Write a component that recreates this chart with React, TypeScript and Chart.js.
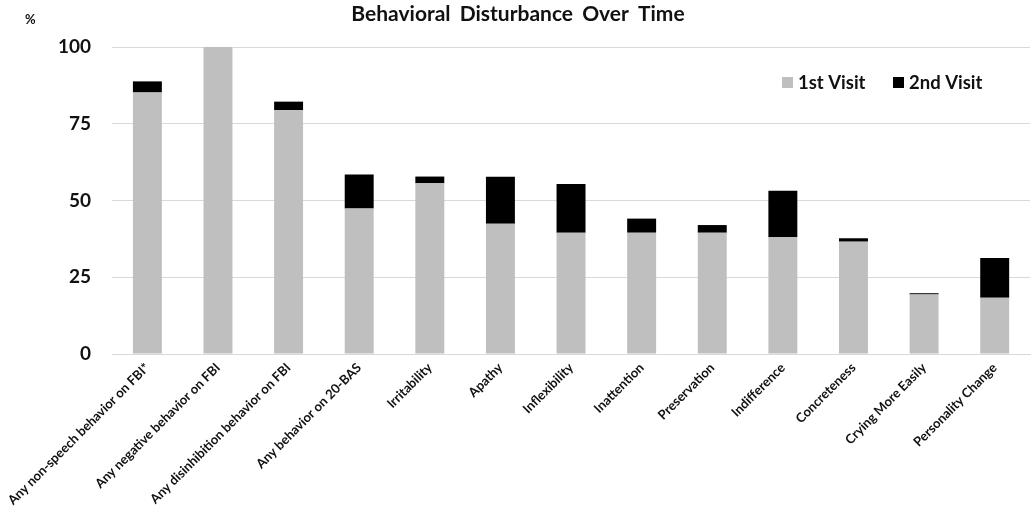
import React, { useEffect, useRef } from "react";
import { Chart, registerables } from "chart.js";

Chart.register(...registerables);

const categories = [
  "Any non-speech behavior on FBI*",
  "Any negative behavior on FBI",
  "Any disinhibition behavior on FBI",
  "Any behavior on 20-BAS",
  "Irritability",
  "Apathy",
  "Inflexibility",
  "Inattention",
  "Preservation",
  "Indifference",
  "Concreteness",
  "Crying More Easily",
  "Personality Change",
];

const firstVisit = [85.2, 100, 79.4, 47.4, 55.6, 42.4, 39.5, 39.5, 39.5, 38.0, 36.6, 19.4, 18.3];
const secondVisitAdded = [3.6, 0, 2.8, 11.1, 2.2, 15.3, 15.9, 4.6, 2.5, 15.2, 1.1, 0.4, 13.0];

const yTicks = [0, 25, 50, 75, 100];

const seriesLabels = ["1st Visit", "2nd Visit"];
const seriesColors = ["#bfbfbf", "#000000"];

const titleText = "Behavioral Disturbance Over Time";
const unitText = "%";

const FONT = "Lato, 'Open Sans', sans-serif";

const overlayPlugin = {
  id: "overlay",
  afterDraw(chart: any) {
    const ctx = chart.ctx;
    ctx.save();
    ctx.fillStyle = "#111";
    ctx.textBaseline = "middle";
    // title
    ctx.font = `bold 21px ${FONT}`;
    ctx.textAlign = "center";
    try {
      (ctx as any).wordSpacing = "4px";
    } catch (e) {}
    ctx.fillText(titleText, 518, 14);
    try {
      (ctx as any).wordSpacing = "0px";
    } catch (e) {}
    // unit
    ctx.font = `bold 13px ${FONT}`;
    ctx.textAlign = "left";
    ctx.fillText(unitText, 25, 20);
    // legend
    ctx.font = `bold 18.5px ${FONT}`;
    const y = 83;
    const boxX = [782, 893];
    chart.data.datasets.forEach((ds: any, i: number) => {
      const x = boxX[i];
      ctx.fillStyle = ds.backgroundColor;
      ctx.fillRect(x, y - 6, 11, 11);
      ctx.fillStyle = "#111";
      ctx.fillText(ds.label, x + 16, y);
    });
    ctx.restore();
  },
};

export default function App() {
  const ref = useRef<HTMLCanvasElement | null>(null);

  useEffect(() => {
    document.body.style.margin = "0";
    const chart = new Chart(ref.current as HTMLCanvasElement, {
      type: "bar",
      data: {
        labels: categories,
        datasets: [
          {
            label: seriesLabels[0],
            data: firstVisit,
            backgroundColor: seriesColors[0],
            barPercentage: 0.41,
            categoryPercentage: 1,
          },
          {
            label: seriesLabels[1],
            data: secondVisitAdded,
            backgroundColor: seriesColors[1],
            barPercentage: 0.41,
            categoryPercentage: 1,
          },
        ],
      },
      options: {
        animation: false,
        responsive: true,
        maintainAspectRatio: false,
        layout: { padding: { top: 47, right: 4, left: 0, bottom: 0 } },
        plugins: {
          legend: { display: false },
          title: { display: false },
          tooltip: { enabled: false },
        },
        scales: {
          x: {
            stacked: true,
            grid: { display: false, drawTicks: false },
            border: { display: true, color: "#d9d9d9", width: 1 },
            ticks: {
              autoSkip: false,
              maxRotation: 45,
              minRotation: 45,
              color: "#111",
              font: { family: FONT, size: 13, weight: "bold" },
              padding: 6,
            },
            afterFit: (s: any) => {
              s.height = 167;
            },
          },
          y: {
            stacked: true,
            min: 0,
            max: 100,
            afterBuildTicks: (s: any) => {
              s.ticks = yTicks.map((v) => ({ value: v }));
            },
            grid: { color: "#d9d9d9", drawTicks: false, lineWidth: 1 },
            border: { display: false },
            ticks: {
              color: "#111",
              font: { family: FONT, size: 19, weight: "bold" },
              padding: 21,
            },
            afterFit: (s: any) => {
              s.width = 111;
            },
          },
        },
      },
      plugins: [overlayPlugin],
    });
    return () => chart.destroy();
  }, []);

  return (
    <div style={{ position: "absolute", left: 0, top: 0, width: 1034, height: 521, background: "#fff" }}>
      <canvas ref={ref} />
    </div>
  );
}
